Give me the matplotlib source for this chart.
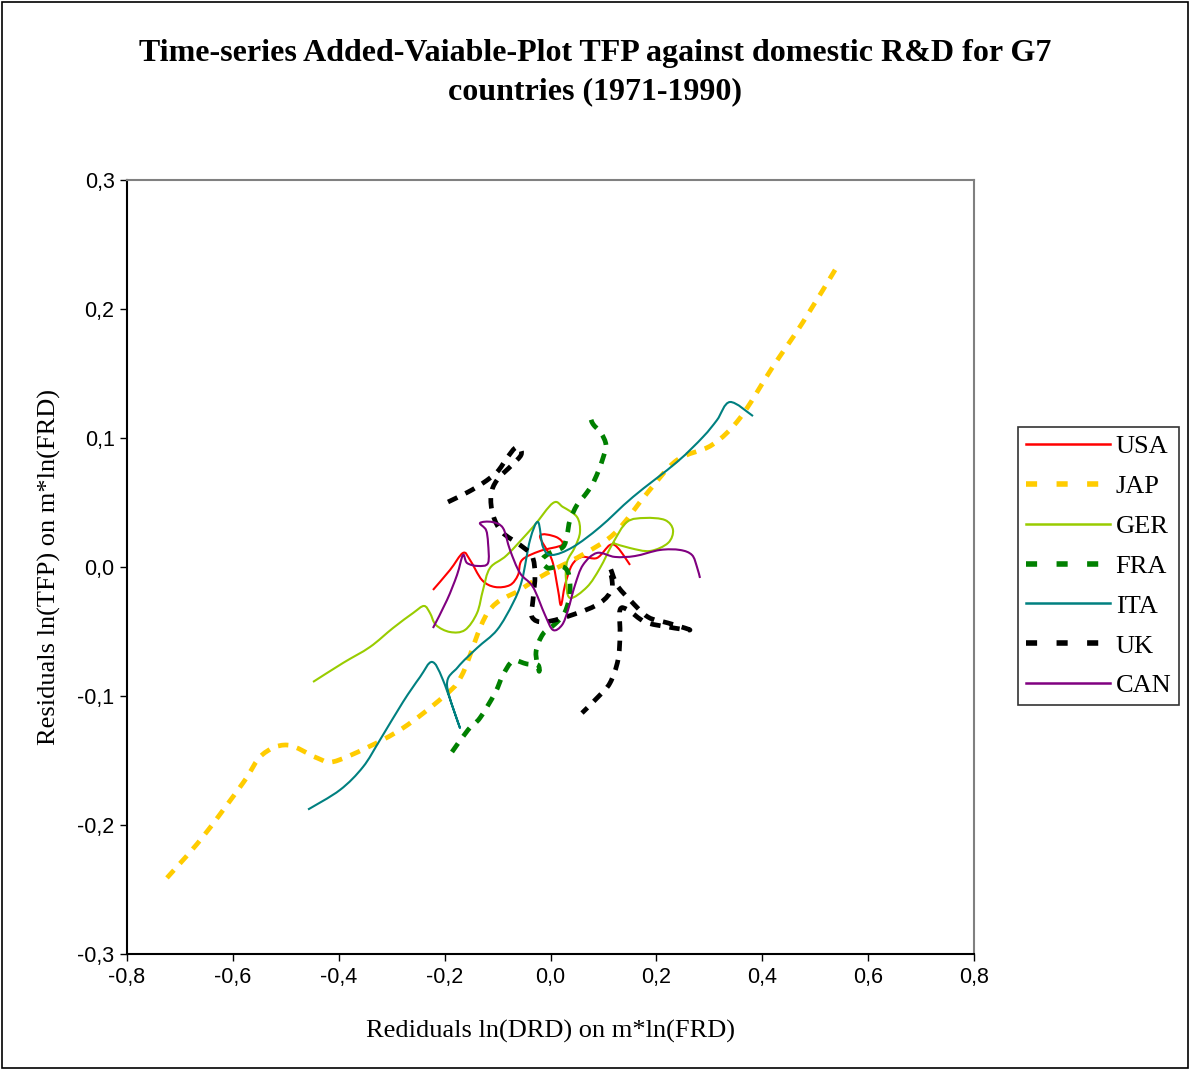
import matplotlib
matplotlib.use("Agg")
import matplotlib.pyplot as plt
from matplotlib.path import Path
from matplotlib.patches import PathPatch, Rectangle
from matplotlib.lines import Line2D
import numpy as np

# ---------------- data ----------------
usa_x = [-0.222, -0.1898, -0.1653, -0.152, -0.1294, -0.1048, -0.0765, -0.0614, -0.0538, -0.0198,
         0.0217, 0.0104, -0.0198, 0.0028, 0.0142, 0.0198, 0.0274, 0.0406, 0.0595, 0.0878,
         0.1124, 0.1275, 0.1502]
usa_y = [-0.0178, -0.0023, 0.0109, 0.0054, -0.0101, -0.0155, -0.014, -0.0062, 0.0054, 0.0124,
         0.0171, 0.0233, 0.024, 0.0054, -0.0178, -0.0295, -0.014, 0.0016, 0.0078, 0.007,
         0.0171, 0.0147, 0.0016]

jap_x = [-0.7245, -0.6583, -0.5809, -0.545, -0.4977, -0.441, -0.411, -0.3466, -0.2786, -0.2031,
         -0.1672, -0.118, -0.0576, -0.0066, 0.0595, 0.1218, 0.1842, 0.239, 0.305, 0.358,
         0.4184, 0.477, 0.543]
jap_y = [-0.241, -0.210, -0.1674, -0.1457, -0.138, -0.148, -0.151, -0.140, -0.1248, -0.1008,
         -0.0837, -0.0349, -0.0178, -0.0047, 0.0093, 0.0264, 0.0581, 0.0829, 0.0946, 0.1155,
         0.1542, 0.1899, 0.234]

ger_x = [-0.4486, -0.392, -0.341, -0.2975, -0.2597, -0.239, -0.2276, -0.2163, -0.1898, -0.1615,
         -0.1388, -0.1275, -0.1143, -0.0822, -0.0331, 0.0047, 0.0236, 0.05, 0.0557, 0.0463,
         0.0312, 0.0293, 0.0368, 0.069, 0.0935, 0.118, 0.1445, 0.1785, 0.2163, 0.2314,
         0.222, 0.188, 0.1502, 0.118]
ger_y = [-0.0891, -0.0744, -0.062, -0.0473, -0.0357, -0.0302, -0.0357, -0.045, -0.0504, -0.0488,
         -0.0357, -0.0178, -0.0008, 0.0093, 0.031, 0.0496, 0.0465, 0.0388, 0.0271, 0.0155,
         0.0039, -0.0101, -0.024, -0.0155, -0.0008, 0.0186, 0.0349, 0.038, 0.0364, 0.0287,
         0.0186, 0.0124, 0.0147, 0.0186]

fra_x = [-0.1861, -0.1558, -0.1332, -0.1048, -0.0897, -0.0708, -0.0444, -0.0236, -0.0217, -0.0274,
         -0.0142, 0.0085, 0.0274, 0.0368, 0.0331, 0.0179, -0.0047, -0.0161, -0.0009, 0.0236,
         0.0312, 0.0368, 0.05, 0.0652, 0.0784, 0.0897, 0.0992, 0.1048, 0.0954, 0.0803, 0.0746]
fra_y = [-0.1434, -0.1263, -0.117, -0.0977, -0.0837, -0.0729, -0.0752, -0.076, -0.0806, -0.0659,
         -0.0519, -0.0442, -0.0349, -0.0194, -0.0039, 0.0008, -0.0008, 0.0054, 0.0109, 0.0155,
         0.0248, 0.0364, 0.048, 0.0558, 0.0636, 0.0736, 0.0845, 0.0946, 0.1039, 0.1108, 0.117]

ita_x = [-0.458, -0.3976, -0.3542, -0.322, -0.2786, -0.2465, -0.2238, -0.2031, -0.171, -0.1955,
         -0.1747, -0.1388, -0.101, -0.0708, -0.0538, -0.0387, -0.0236, -0.0142, 0.0028, 0.0425,
         0.0935, 0.1558, 0.239, 0.288, 0.3145, 0.339, 0.3825]
ita_y = [-0.188, -0.1728, -0.155, -0.134, -0.1046, -0.0853, -0.0736, -0.0876, -0.1248, -0.0915,
         -0.0775, -0.0628, -0.0488, -0.0279, -0.0101, 0.0209, 0.0349, 0.0155, 0.0093, 0.0155,
         0.031, 0.0543, 0.0814, 0.1008, 0.1139, 0.1279, 0.117]

uk_x = [-0.1936, -0.1558, -0.1275, -0.101, -0.0822, -0.0671, -0.0576, -0.0557, -0.0727, -0.101,
        -0.1124, -0.1086, -0.0916, -0.0576, -0.0349, -0.0293, -0.0331, -0.0349, -0.0104, 0.0463,
        0.0935, 0.1162, 0.1124, 0.1256, 0.1502, 0.1842, 0.222, 0.2635, 0.222, 0.1785,
        0.1464, 0.1313, 0.1313, 0.1275, 0.1124, 0.0897, 0.0595]
uk_y = [0.0504, 0.0581, 0.0651, 0.0736, 0.0845, 0.0922, 0.0922, 0.0868, 0.0791, 0.0674,
        0.0558, 0.0403, 0.0271, 0.0171, 0.0085, -0.0062, -0.0256, -0.0388, -0.0426, -0.0364,
        -0.0279, -0.0163, -0.0008, -0.014, -0.0256, -0.0388, -0.0434, -0.0488, -0.0465, -0.0426,
        -0.0333, -0.0333, -0.0527, -0.0721, -0.0899, -0.1008, -0.1132]

can_x = [-0.222, -0.1955, -0.1766, -0.1653, -0.1577, -0.137, -0.118, -0.118, -0.1218, -0.1332,
         -0.1105, -0.0897, -0.0765, -0.0576, -0.0331, -0.0104, 0.0047, 0.0217, 0.0331, 0.0463,
         0.0614, 0.0878, 0.1218, 0.1596, 0.2068, 0.2446, 0.2673, 0.2767, 0.2824]
can_y = [-0.0473, -0.0256, -0.0062, 0.0093, 0.0031, 0.0008, 0.0031, 0.0186, 0.0287, 0.0341,
         0.0349, 0.0302, 0.0132, -0.0047, -0.0155, -0.0372, -0.0488, -0.045, -0.0333, -0.014,
         0.0016, 0.0109, 0.0078, 0.0085, 0.0132, 0.0132, 0.0093, 0.0, -0.0085]

series_names = ["USA", "JAP", "GER", "FRA", "ITA", "UK", "CAN"]
x_ticks = [-0.8, -0.6, -0.4, -0.2, 0.0, 0.2, 0.4, 0.6, 0.8]
x_tick_labels = ["-0,8", "-0,6", "-0,4", "-0,2", "0,0", "0,2", "0,4", "0,6", "0,8"]
y_ticks = [-0.3, -0.2, -0.1, 0.0, 0.1, 0.2, 0.3]
y_tick_labels = ["-0,3", "-0,2", "-0,1", "0,0", "0,1", "0,2", "0,3"]

# ---------------- styles ----------------
colors = {"USA": "#FF0000", "JAP": "#FFCC00", "GER": "#99CC00", "FRA": "#008000",
          "ITA": "#008080", "UK": "#000000", "CAN": "#800080"}
dashed = {"JAP", "FRA", "UK"}
data = {"USA": (usa_x, usa_y), "JAP": (jap_x, jap_y), "GER": (ger_x, ger_y),
        "FRA": (fra_x, fra_y), "ITA": (ita_x, ita_y), "UK": (uk_x, uk_y), "CAN": (can_x, can_y)}


def smooth_path(xs, ys):
    """Excel-like smoothed line: cubic Bezier segments through the data points."""
    p = np.column_stack([xs, ys]).astype(float)
    n = len(p)
    verts = [p[0]]
    codes = [Path.MOVETO]
    for i in range(n - 1):
        p0 = p[i - 1] if i > 0 else p[i]
        p1 = p[i]
        p2 = p[i + 1]
        p3 = p[i + 2] if i + 2 < n else p[i + 1]
        c1 = p1 + (p2 - p0) / 6.0
        c2 = p2 - (p3 - p1) / 6.0
        verts += [c1, c2, p2]
        codes += [Path.CURVE4] * 3
    return Path(verts, codes)


fig = plt.figure(figsize=(11.9, 10.7), dpi=100)
ax = fig.add_axes([127 / 1190, 1 - 954 / 1070, (974 - 127) / 1190, (954 - 180) / 1070])

handles = []
for name in series_names:
    xs, ys = data[name]
    if name in dashed:
        ls = (0, (2.2, 1.9))
        lw = 3.4
    else:
        ls = "-"
        lw = 1.5
    patch = PathPatch(smooth_path(xs, ys), facecolor="none", edgecolor=colors[name],
                      linewidth=lw, linestyle=ls, capstyle="butt", joinstyle="round")
    ax.add_patch(patch)
    if name in dashed:
        h = Line2D([], [], color=colors[name], linewidth=4, linestyle=(0, (2, 3.5)),
                   dash_capstyle="butt")
    else:
        h = Line2D([], [], color=colors[name], linewidth=1.8)
    handles.append(h)

ax.set_xlim(-0.8, 0.8)
ax.set_ylim(-0.3, 0.3)
ax.set_xticks(x_ticks)
ax.set_xticklabels(x_tick_labels)
ax.set_yticks(y_ticks)
ax.set_yticklabels(y_tick_labels)
ax.tick_params(axis="both", direction="out", length=5, width=1, labelsize=15.5, pad=4)
for lab in ax.get_xticklabels() + ax.get_yticklabels():
    lab.set_family("Liberation Sans")
ax.spines["left"].set_color("black")
ax.spines["bottom"].set_color("black")
ax.spines["top"].set_color("#808080")
ax.spines["right"].set_color("#808080")
for s in ax.spines.values():
    s.set_linewidth(1.5)

ax.set_xlabel("Rediduals ln(DRD) on m*ln(FRD)", family="Liberation Serif", fontsize=19, labelpad=23)
ax.set_ylabel("Residuals ln(TFP) on m*ln(FRD)", family="Liberation Serif", fontsize=19, labelpad=12)

fig.text(0.5, 1 - 73 / 1070, "Time-series Added-Vaiable-Plot TFP against domestic R&D for G7\ncountries (1971-1990)",
         ha="center", va="center", family="Liberation Serif", fontweight="bold", fontsize=23,
         linespacing=1.42)

leg = fig.legend(handles, series_names, loc="upper left",
                 bbox_to_anchor=(1018 / 1190, 1 - 427 / 1070),
                 prop={"family": "Liberation Serif", "size": 19}, frameon=True, fancybox=False,
                 edgecolor="black", handlelength=3.2, handletextpad=0.2, labelspacing=0.62,
                 borderpad=0.3, borderaxespad=0)
leg.get_frame().set_linewidth(1.2)

fig.patches.append(Rectangle((0.002, 0.002), 0.996, 0.996, transform=fig.transFigure,
                             fill=False, edgecolor="black", linewidth=1.2))

fig.savefig("out.png", dpi=100, facecolor="white")
